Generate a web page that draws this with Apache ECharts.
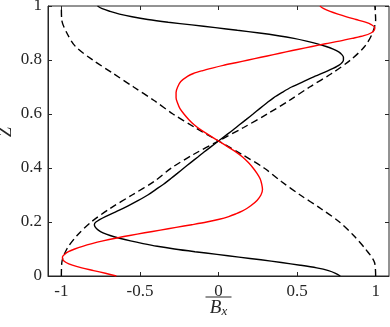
<!DOCTYPE html>
<html>
<head>
<meta charset="utf-8">
<script src="https://cdn.jsdelivr.net/npm/echarts@6/dist/echarts.min.js"></script>
<style>
  html, body { margin: 0; padding: 0; background: #fff; }
  #chart { width: 390px; height: 327px; }
</style>
</head>
<body>
<div id="chart"></div>
<script>
// dashed profiles (x read at each z)
const dashZ = [0, 0.05, 0.1, 0.15, 0.2, 0.25, 0.3, 0.35, 0.4, 0.45, 0.5,
  0.55, 0.6, 0.65, 0.7, 0.75, 0.8, 0.85, 0.9, 0.95, 1];
const dashA = [-1.0, -0.997, -0.965, -0.9, -0.81, -0.69, -0.55, -0.41, -0.3, -0.16, 0,
  0.16, 0.31, 0.45, 0.58, 0.72, 0.84, 0.93, 0.98, 1.0, 0.995];
const dashB = [1.0, 0.993, 0.935, 0.86, 0.77, 0.65, 0.52, 0.4, 0.29, 0.15, 0,
  -0.15, -0.29, -0.41, -0.54, -0.67, -0.8, -0.91, -0.965, -0.998, -1.0];

// solid black
const blackZ = [0, 0.01, 0.02, 0.03, 0.04, 0.05, 0.06, 0.07, 0.08, 0.09, 0.1,
  0.11, 0.12, 0.13, 0.14, 0.15, 0.16, 0.17, 0.18, 0.19, 0.2, 0.22, 0.24, 0.26,
  0.28, 0.3, 0.32, 0.34, 0.36, 0.38, 0.4, 0.42, 0.44, 0.46, 0.48, 0.5,
  0.52, 0.54, 0.56, 0.58, 0.6, 0.62, 0.64, 0.66, 0.68, 0.7, 0.72, 0.74, 0.76,
  0.78, 0.8, 0.81, 0.82, 0.83, 0.84, 0.85, 0.86, 0.87, 0.88, 0.89, 0.9, 0.91,
  0.92, 0.93, 0.94, 0.95, 0.96, 0.97, 0.98, 0.99, 1];
const blackX = [0.775, 0.745, 0.7, 0.625, 0.52, 0.4, 0.27, 0.13, -0.01, -0.15, -0.28,
  -0.39, -0.48, -0.56, -0.63, -0.69, -0.735, -0.765, -0.783, -0.79, -0.78, -0.72, -0.645, -0.575,
  -0.51, -0.45, -0.4, -0.35, -0.305, -0.262, -0.22, -0.177, -0.133, -0.09, -0.045, 0,
  0.045, 0.09, 0.133, 0.177, 0.22, 0.262, 0.305, 0.35, 0.405, 0.465, 0.54, 0.615, 0.695,
  0.765, 0.795, 0.795, 0.785, 0.765, 0.73, 0.685, 0.63, 0.56, 0.48, 0.38, 0.26, 0.12,
  -0.02, -0.17, -0.32, -0.45, -0.55, -0.63, -0.69, -0.74, -0.77];

// solid red
const redZ = [0, 0.01, 0.02, 0.03, 0.04, 0.05, 0.06, 0.07, 0.08, 0.09, 0.1,
  0.11, 0.12, 0.13, 0.14, 0.15, 0.16, 0.17, 0.18, 0.19, 0.2, 0.21, 0.22, 0.23,
  0.24, 0.25, 0.26, 0.28, 0.3, 0.32, 0.34, 0.36, 0.38, 0.4, 0.42, 0.44, 0.46,
  0.48, 0.5, 0.52, 0.54, 0.56, 0.58, 0.6, 0.62, 0.64, 0.66, 0.68, 0.7, 0.72,
  0.74, 0.75, 0.76, 0.77, 0.78, 0.79, 0.8, 0.81, 0.82, 0.83, 0.84, 0.85, 0.86,
  0.87, 0.88, 0.89, 0.9, 0.91, 0.92, 0.93, 0.94, 0.95, 0.96, 0.97, 0.98, 0.99, 1];
const redX = [-0.65, -0.72, -0.795, -0.87, -0.93, -0.97, -0.99, -0.993, -0.98, -0.955, -0.915,
  -0.865, -0.805, -0.735, -0.655, -0.565, -0.47, -0.37, -0.27, -0.17, -0.075, 0.005, 0.065, 0.11,
  0.15, 0.18, 0.205, 0.245, 0.27, 0.28, 0.275, 0.265, 0.245, 0.22, 0.19, 0.155, 0.11,
  0.055, 0, -0.055, -0.11, -0.155, -0.19, -0.22, -0.245, -0.26, -0.27, -0.27, -0.26, -0.24,
  -0.195, -0.16, -0.105, -0.04, 0.03, 0.11, 0.19, 0.27, 0.35, 0.43, 0.51, 0.595, 0.68,
  0.77, 0.85, 0.925, 0.97, 0.99, 0.995, 0.975, 0.935, 0.875, 0.815, 0.76, 0.71, 0.67, 0.645];

const xTicks = [-1, -0.5, 0, 0.5, 1];

function pairs(xs, zs) {
  return xs.map((x, i) => [x, zs[i]]);
}

const font = 'Liberation Serif';
const axisCol = '#262626';

let myChart = echarts.init(document.getElementById('chart'));
let option = {
  animation: false,
  backgroundColor: '#fff',
  grid: {
    left: 48, right: 1, top: 6, bottom: 51, outerBoundsMode: 'none', containLabel: false,
    show: true, borderColor: axisCol, borderWidth: 1
  },
  xAxis: [
    {
      type: 'value', min: -1.085, max: 1.085,
      axisLine: { show: true, onZero: false, lineStyle: { color: axisCol } },
      axisTick: { inside: true, length: 4, customValues: xTicks, lineStyle: { color: axisCol } },
      axisLabel: { customValues: xTicks, margin: 7, color: '#262626', fontFamily: font, fontSize: 17 },
      splitLine: { show: false },
      // overbar drawn as an empty rich token above B_x
      name: '{bar|}\n{b|B}{s|x}',
      nameLocation: 'middle',
      nameGap: 19,
      nameMoveOverlap: false,
      nameTextStyle: {
        align: 'center',
        verticalAlign: 'top',
        rich: {
          bar: { width: 26, height: 1, lineHeight: 4, backgroundColor: '#262626', align: 'center' },
          b: { fontFamily: font, fontStyle: 'italic', fontSize: 19, lineHeight: 18, color: '#262626', align: 'center' },
          s: { fontFamily: font, fontStyle: 'italic', fontSize: 13, lineHeight: 18, color: '#262626', align: 'center', padding: [8, 0, 0, 0] }
        }
      }
    },
    {
      type: 'value', position: 'top', min: -1.085, max: 1.085,
      axisLine: { show: false, onZero: false },
      axisTick: { inside: true, length: 4, customValues: xTicks, lineStyle: { color: axisCol } },
      axisLabel: { show: false },
      splitLine: { show: false }
    }
  ],
  yAxis: [
    {
      type: 'value', min: 0, max: 1, interval: 0.2,
      axisLine: { show: true, onZero: false, lineStyle: { color: axisCol } },
      axisTick: { inside: true, length: 4, lineStyle: { color: axisCol } },
      axisLabel: { margin: 6, color: '#262626', fontFamily: font, fontSize: 17 },
      splitLine: { show: false },
      name: 'Z',
      nameLocation: 'middle',
      nameRotate: 90,
      nameGap: 33,
      nameMoveOverlap: false,
      nameTextStyle: { fontFamily: font, fontStyle: 'italic', fontSize: 18, color: '#262626', padding: [0, 0, 0, 18] }
    },
    {
      type: 'value', position: 'right', min: 0, max: 1, interval: 0.2,
      axisLine: { show: false, onZero: false },
      axisTick: { inside: true, length: 4, lineStyle: { color: axisCol } },
      axisLabel: { show: false },
      splitLine: { show: false }
    }
  ],
  series: [
    { type: 'line', data: pairs(dashA, dashZ), smooth: 0.3, symbol: 'none',
      lineStyle: { color: '#000', width: 1.4, type: [7, 4] } },
    { type: 'line', data: pairs(dashB, dashZ), smooth: 0.3, symbol: 'none',
      lineStyle: { color: '#000', width: 1.4, type: [7, 4] } },
    { type: 'line', data: pairs(blackX, blackZ), smooth: 0.3, symbol: 'none',
      lineStyle: { color: '#000', width: 1.4 } },
    { type: 'line', data: pairs(redX, redZ), smooth: 0.3, symbol: 'none',
      lineStyle: { color: '#ff0000', width: 1.4 } }
  ]
};
myChart.setOption(option);
</script>
</body>
</html>
